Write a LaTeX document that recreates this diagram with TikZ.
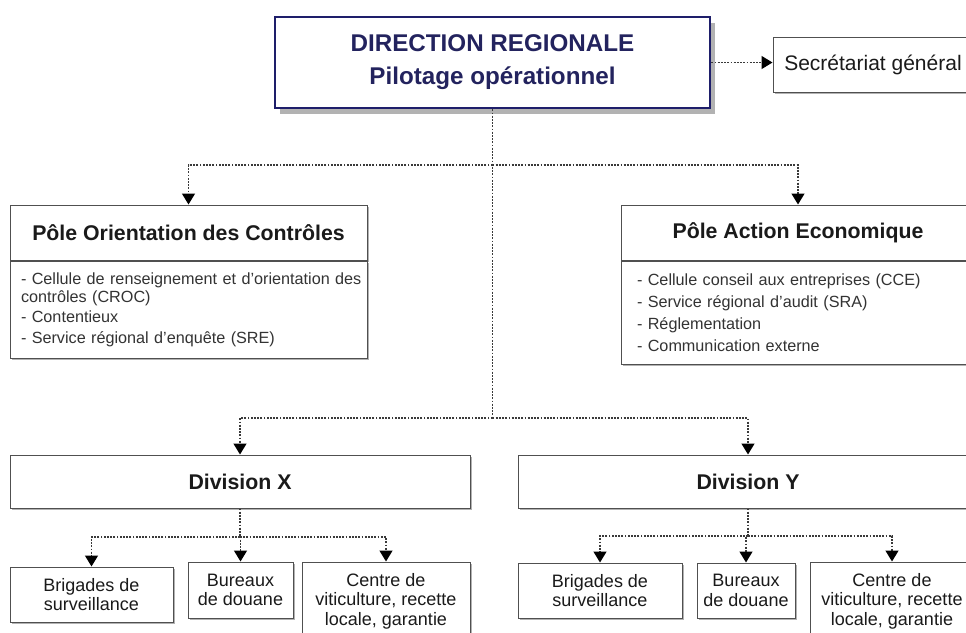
\documentclass[tikz,border=0pt]{standalone}
\usepackage{fontspec}
\setmainfont{Liberation Sans}
\usetikzlibrary{arrows.meta,shadows}
\definecolor{navy}{HTML}{1E1E6A}
\definecolor{navytext}{HTML}{23235E}
\definecolor{boxline}{HTML}{505050}
\definecolor{conncol}{HTML}{3A3A3A}
\definecolor{txt}{HTML}{1A1A1A}
\begin{document}
\begin{tikzpicture}[x=1pt,y=-1pt,
  box/.style={draw=boxline, line width=1pt, fill=white, rectangle, inner sep=0pt, text=txt,
    drop shadow={shadow xshift=2pt,shadow yshift=-2pt,fill=black!30,opacity=1}},
  dirbox/.style={draw=navy, line width=2.6pt, fill=white, rectangle, minimum width=435pt, minimum height=91pt,
    align=center, text=navytext, font=\fontsize{24.2}{33}\selectfont\bfseries,
    drop shadow={shadow xshift=5pt,shadow yshift=-6pt,fill=black!30,opacity=1}},
  head/.style={box, font=\fontsize{21.3}{25}\selectfont\bfseries},
  listbox/.style={box, font=\fontsize{16.2}{18}\selectfont, align=left, text=black!80},
  leaf/.style={box, font=\fontsize{18}{19.5}\selectfont, align=center},
  conn/.style={draw=conncol, line width=1.4pt, dash pattern=on 1.8pt off 1.4pt},
  arr/.style={conn, -{Triangle[width=13pt,length=11pt,color=black]}}
]
\useasboundingbox (0,0) rectangle (966,632);
\clip (0,0) rectangle (966,632);
\fill[white] (0,0) rectangle (966,632);

% top
\node[dirbox] (dir) at (492.5,62.5) {DIRECTION REGIONALE\\Pilotage opérationnel};
\node[box, minimum width=200pt, minimum height=55pt, font=\fontsize{21}{25}\selectfont] (sec) at (873,64.5) {Secrétariat général};

% poles
\node[head, minimum width=357pt, minimum height=55pt] (poch) at (188.5,232.5) {Pôle Orientation des Contrôles};
\node[listbox, anchor=north, minimum width=357pt, minimum height=97pt, text width=335pt, inner xsep=11pt] (pocb) at (poch.south)
  {\mbox{- Cellule de renseignement et d'orientation des}\\contrôles (CROC)\\[2pt]- Contentieux\\[3pt]- Service régional d'enquête (SRE)};

\node[head, minimum width=354pt, minimum height=55pt] (poah) at (798,232.5) {Pôle Action Economique};
\node[listbox, anchor=north, minimum width=354pt, minimum height=103pt, text width=322pt, inner xsep=16pt] (poab) at (poah.south)
  {- Cellule conseil aux entreprises (CCE)\\[4pt]- Service régional d'audit (SRA)\\[4pt]- Réglementation\\[4pt]- Communication externe};

% divisions
\node[head, minimum width=460pt, minimum height=53pt] (divx) at (240,481.5) {Division X};
\node[head, minimum width=460pt, minimum height=53pt] (divy) at (748,481.5) {Division Y};

% leaves
\node[leaf, minimum width=163pt, minimum height=55pt] (bx1) at (91.5,594.5) {Brigades de\\surveillance};
\node[leaf, minimum width=105pt, minimum height=56pt] (bx2) at (240.5,590) {Bureaux\\de douane};
\node[leaf, minimum width=168pt, minimum height=78pt] (bx3) at (386,601) {Centre de\\viticulture, recette\\locale, garantie};
\node[leaf, minimum width=164pt, minimum height=55pt] (by1) at (600,590.5) {Brigades de\\surveillance};
\node[leaf, minimum width=98pt, minimum height=55pt] (by2) at (746,590.5) {Bureaux\\de douane};
\node[leaf, minimum width=164pt, minimum height=78pt] (by3) at (892,601) {Centre de\\viticulture, recette\\locale, garantie};

% connectors
\coordinate (j1) at (492.5,165);
\coordinate (j2) at (492.5,418);
\coordinate (jx) at (240,537);
\coordinate (jy) at (748,536);
\draw[arr] (dir.east) -- (dir.east -| sec.west);
\draw[conn] (dir.south) -- (j2);
\draw[arr] (j1) -| (poch.north);
\draw[arr] (j1) -| (poah.north);
\draw[arr] (j2) -| (divx.north);
\draw[arr] (j2) -| (divy.north);
\draw[conn] (divx.south) -- (jx);
\draw[arr] (jx) -| (bx1.north);
\draw[arr] (jx) -| (bx2.north);
\draw[arr] (jx) -| (bx3.north);
\draw[conn] (divy.south) -- (jy);
\draw[arr] (jy) -| (by1.north);
\draw[arr] (jy) -| (by2.north);
\draw[arr] (jy) -| (by3.north);
\end{tikzpicture}
\end{document}
